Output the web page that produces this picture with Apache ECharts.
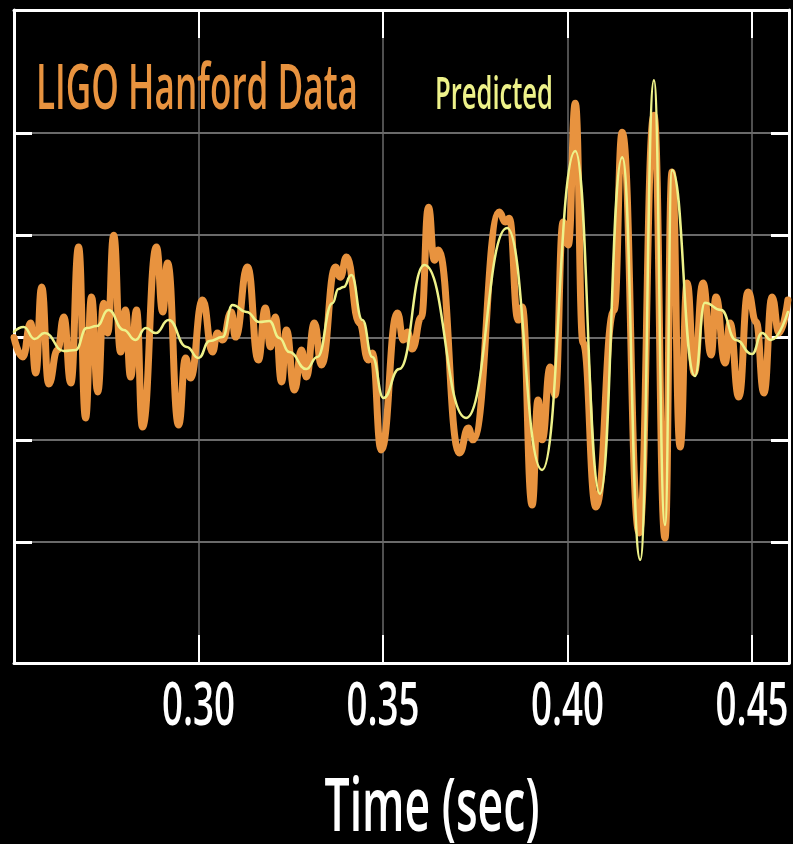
<!DOCTYPE html>
<html>
<head>
<meta charset="utf-8">
<script src="https://cdn.jsdelivr.net/npm/echarts@6/dist/echarts.min.js"></script>
<style>
  html, body { margin: 0; padding: 0; background: #000; }
  #chart { width: 793px; height: 844px; }
</style>
</head>
<body>
<div id="chart"></div>
<script>
// ---- Data (time in s, strain in units of 1e-21) ----
const xTicks = [0.30, 0.35, 0.40, 0.45];
const xTickLabels = ['0.30', '0.35', '0.40', '0.45'];
const yTicks = [-1.0, -0.5, 0, 0.5, 1.0];

const hanfordTime = [
  0.2500, 0.2524, 0.2545, 0.2559, 0.2575, 0.2594, 0.2618, 0.2635, 0.2654, 0.2675,
  0.2694, 0.2710, 0.2727, 0.2743, 0.2754, 0.2770, 0.2789, 0.2802, 0.2816, 0.2832,
  0.2848, 0.2886, 0.2903, 0.2916, 0.2946, 0.2965, 0.2978, 0.3011, 0.3038, 0.3051,
  0.3065, 0.3089, 0.3100, 0.3133, 0.3162, 0.3181, 0.3195, 0.3208, 0.3225, 0.3238,
  0.3260, 0.3279, 0.3292, 0.3314, 0.3333, 0.3371, 0.3384, 0.3401, 0.3436, 0.3460,
  0.3471, 0.3495, 0.3539, 0.3555, 0.3566, 0.3579, 0.3604, 0.3623, 0.3639, 0.3650,
  0.3707, 0.3731, 0.3744, 0.3815, 0.3831, 0.3842, 0.3866, 0.3877, 0.3904, 0.3920,
  0.3931, 0.3953, 0.3966, 0.3988, 0.4002, 0.4021, 0.4042, 0.4077, 0.4126, 0.4148,
  0.4194, 0.4234, 0.4264, 0.4283, 0.4305, 0.4324, 0.4343, 0.4367, 0.4389, 0.4402,
  0.4427, 0.4440, 0.4464, 0.4489, 0.4511, 0.4532, 0.4554, 0.4573, 0.4597
];
const hanfordStrain = [
  0.00, -0.095, 0.071, -0.173, 0.247, -0.227, -0.061, 0.100, -0.222, 0.442,
  -0.393, 0.198, -0.266, 0.168, 0.022, 0.500, -0.071, 0.134, -0.193, 0.134,
  -0.437, 0.442, 0.125, 0.364, -0.427, -0.100, -0.198, 0.183, -0.071, 0.022,
  -0.012, 0.125, 0.002, 0.344, -0.110, 0.144, -0.046, 0.100, -0.217, 0.037,
  -0.256, -0.061, -0.193, 0.071, -0.134, 0.344, 0.295, 0.393, 0.071, -0.110,
  -0.076, -0.549, 0.120, -0.012, 0.027, -0.056, 0.100, 0.637, 0.378, 0.427,
  -0.564, -0.442, -0.500, 0.613, 0.564, 0.583, 0.085, 0.149, -0.818, -0.305,
  -0.500, -0.144, -0.281, 0.564, 0.452, 1.145, -0.027, -0.828, 0.134, 1.003,
  -0.955, 1.086, -0.979, 0.808, -0.535, 0.266, -0.173, 0.266, -0.085, 0.198,
  -0.125, 0.071, -0.291, 0.222, 0.076, -0.271, 0.198, 0.022, 0.183
];

const predictedTime = [
  0.2500, 0.2526, 0.2556, 0.2583, 0.2635, 0.2667, 0.2697, 0.2724, 0.2756, 0.2797,
  0.2829, 0.2857, 0.2884, 0.2919, 0.2968, 0.3000, 0.3030, 0.3065, 0.3092, 0.3130,
  0.3165, 0.3192, 0.3219, 0.3246, 0.3292, 0.3322, 0.3363, 0.3379, 0.3393, 0.3414,
  0.3444, 0.3471, 0.3501, 0.3544, 0.3612, 0.3725, 0.3836, 0.3931, 0.4021, 0.4088,
  0.4148, 0.4197, 0.4234, 0.4264, 0.4283, 0.4345, 0.4372, 0.4416, 0.4456, 0.4500,
  0.4527, 0.4551, 0.4597
];
const predictedStrain = [
  0.027, 0.051, -0.007, 0.022, -0.066, -0.061, 0.046, 0.056, 0.134, 0.037,
  -0.012, 0.046, 0.022, 0.085, -0.046, -0.100, -0.017, 0.002, 0.159, 0.125,
  0.076, 0.081, -0.002, -0.071, -0.154, -0.095, 0.168, 0.237, 0.247, 0.305,
  0.085, -0.095, -0.295, -0.154, 0.354, -0.393, 0.535, -0.647, 0.911, -0.764,
  0.881, -1.086, 1.257, -0.916, 0.818, -0.188, 0.170, 0.134, -0.012, -0.081,
  0.022, -0.012, 0.125
];

const titleText = 'LIGO Hanford Data';
const predictedText = 'Predicted';
const axisNameText = 'Time (sec)';

// ---- Styles ----
const ORANGE = '#E8933F';
const YELLOW = '#EEF28A';
const GRID_GRAY = '#6a6a6a';

const zip = (xs, ys) => xs.map((x, i) => [x, ys[i]]);

// measure text to fit the condensed look of the original
const mctx = document.createElement('canvas').getContext('2d');
function fitScale(text, font, target) {
  mctx.font = font;
  return target / mctx.measureText(text).width;
}
const FAM = '"Open Sans", "Liberation Sans", Arial, sans-serif';
const titleFont = '600 63px ' + FAM;
const predFont = '600 45px ' + FAM;
const nameFont = '600 74px ' + FAM;
const tickFont = '600 60px ' + FAM;

const chart = echarts.init(document.getElementById('chart'), null, { renderer: 'canvas' });

const axisLineStyle = { color: '#ffffff', width: 3 };

const option = {
  backgroundColor: '#000000',
  animation: false,
  grid: { left: 14, right: 4, top: 10, bottom: 181, containLabel: false, outerBoundsMode: 'none' },
  xAxis: [
    {
      type: 'value', position: 'bottom', min: 0.25, max: 0.46,
      axisLine: { show: true, onZero: false, lineStyle: axisLineStyle },
      axisTick: { show: true, inside: true, length: 28, customValues: xTicks, lineStyle: { color: '#fff', width: 2 } },
      axisLabel: { show: false, customValues: xTicks },
      splitLine: { show: true, lineStyle: { color: GRID_GRAY, width: 1.5 } }
    },
    {
      type: 'value', position: 'top', min: 0.25, max: 0.46,
      axisLine: { show: true, onZero: false, lineStyle: axisLineStyle },
      axisTick: { show: true, inside: true, length: 28, customValues: xTicks, lineStyle: { color: '#fff', width: 2 } },
      axisLabel: { show: false },
      splitLine: { show: false }
    }
  ],
  yAxis: [
    {
      type: 'value', position: 'left', min: -1.59, max: 1.6,
      axisLine: { show: true, onZero: false, lineStyle: axisLineStyle },
      axisTick: { show: true, inside: true, length: 18, customValues: yTicks, lineStyle: { color: '#fff', width: 3 } },
      axisLabel: { show: false, customValues: yTicks },
      splitLine: { show: true, lineStyle: { color: GRID_GRAY, width: 2 } }
    },
    {
      type: 'value', position: 'right', min: -1.59, max: 1.6,
      axisLine: { show: true, onZero: false, lineStyle: axisLineStyle },
      axisTick: { show: true, inside: true, length: 18, customValues: yTicks, lineStyle: { color: '#fff', width: 3 } },
      axisLabel: { show: false, customValues: yTicks },
      splitLine: { show: false }
    }
  ],
  series: [
    {
      name: 'LIGO Hanford Data', type: 'line', xAxisIndex: 0, yAxisIndex: 0,
      data: zip(hanfordTime, hanfordStrain),
      showSymbol: false, smooth: 0.5, smoothMonotone: 'x',
      lineStyle: { color: ORANGE, width: 7, cap: 'round', join: 'round' },
      z: 3, silent: true
    },
    {
      name: 'Predicted', type: 'line', xAxisIndex: 0, yAxisIndex: 0,
      data: zip(predictedTime, predictedStrain),
      showSymbol: false, smooth: 0.5, smoothMonotone: 'x',
      lineStyle: { color: YELLOW, width: 2.5, cap: 'round', join: 'round' },
      z: 4, silent: true
    }
  ],
  graphic: [
    {
      id: 'title', type: 'text', x: 36, y: 91, scaleX: fitScale(titleText, titleFont, 322), z: 10,
      style: { text: titleText, font: titleFont, fill: ORANGE, align: 'left', verticalAlign: 'middle' }
    },
    {
      id: 'pred', type: 'text', x: 435, y: 96, scaleX: fitScale(predictedText, predFont, 118), z: 10,
      style: { text: predictedText, font: predFont, fill: YELLOW, align: 'left', verticalAlign: 'middle' }
    },
    {
      id: 'xname', type: 'text', x: 432, y: 810, scaleX: fitScale(axisNameText, nameFont, 215), z: 10,
      style: { text: axisNameText, font: nameFont, fill: '#ffffff', align: 'center', verticalAlign: 'middle' }
    }
  ]
};
chart.setOption(option);

// x tick labels placed through the axis scale (condensed like the original)
const tickScale = fitScale('0.30', tickFont, 73);
const tickLabelEls = xTicks.map((v, i) => {
  const px = chart.convertToPixel({ xAxisIndex: 0 }, v);
  return {
    id: 'xlab' + i, type: 'text', x: px, y: 708, scaleX: tickScale, z: 10,
    style: { text: xTickLabels[i], font: tickFont, fill: '#ffffff', align: 'center', verticalAlign: 'middle' }
  };
});
chart.setOption({ graphic: tickLabelEls });
</script>
</body>
</html>
